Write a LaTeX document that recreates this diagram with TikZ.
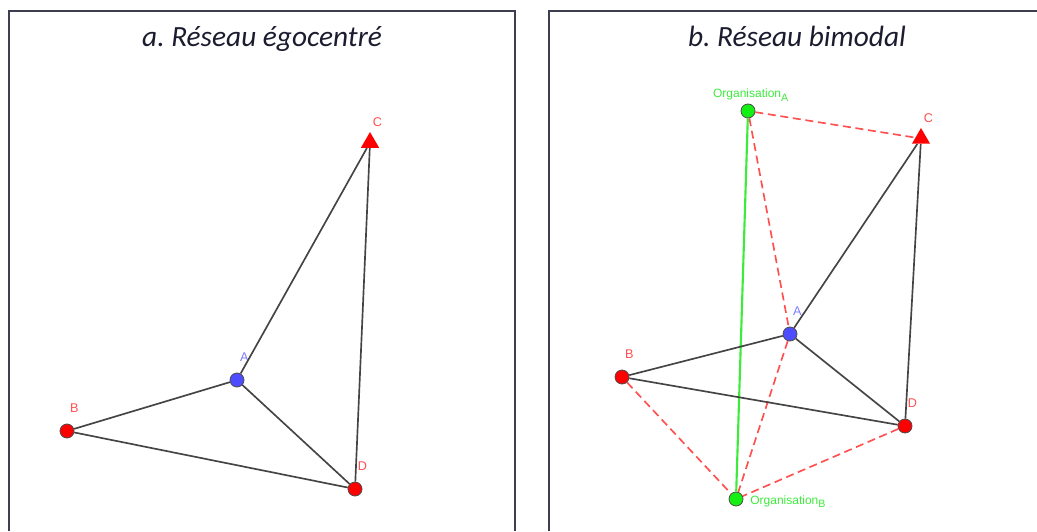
\documentclass[tikz,border=0pt]{standalone}
\usepackage{fontspec}
\newfontfamily\labelfont{Liberation Sans}
\newfontfamily\titlefont{Carlito}
\usepackage{tikz}
\usetikzlibrary{shapes.geometric}
\definecolor{ptred}{RGB}{255,0,0}
\definecolor{lblred}{RGB}{255,80,80}
\definecolor{ptblue}{RGB}{77,77,255}
\definecolor{lblblue}{RGB}{125,125,255}
\definecolor{ptgreen}{RGB}{20,240,20}
\definecolor{orggreen}{RGB}{60,235,60}
\definecolor{edgegray}{RGB}{68,68,68}
\definecolor{tiered}{RGB}{255,80,80}
\definecolor{framegray}{RGB}{62,62,82}
\definecolor{titleink}{RGB}{28,28,48}
\newcommand{\orgsub}[1]{\raisebox{-2.5pt}{\fontsize{8}{8}\selectfont #1}}

\begin{document}
\begin{tikzpicture}[x=0.75pt,y=-0.75pt,
  panel/.style={draw=framegray,line width=1.4pt},
  ttl/.style={font=\titlefont\itshape\fontsize{22}{24}\selectfont,text=titleink,anchor=base,inner sep=0pt},
  lbl/.style={font=\labelfont\fontsize{9.5}{10}\selectfont,inner sep=0pt,label distance=8pt,xshift=5.5pt},
  pt/.style={circle,draw=black!70,line width=0.6pt,minimum size=10.5pt,inner sep=0pt},
  redpt/.style={pt,fill=ptred,label={[lbl,text=lblred]above:#1}},
  bluept/.style={pt,fill=ptblue,label={[lbl,text=lblblue]above:#1}},
  greenpt/.style={pt,fill=ptgreen},
  tri/.style={regular polygon,regular polygon sides=3,fill=ptred,minimum size=15.75pt,inner sep=0pt,
              label={[lbl,text=lblred,label distance=3.5pt]above:#1}},
  link/.style={draw=edgegray,line width=1.25pt},
  tie/.style={draw=tiered,line width=1.25pt,dash pattern=on 6pt off 3.5pt},
  orgline/.style={draw=orggreen,line width=1.6pt},
  glbl/.style={font=\labelfont\fontsize{9}{10}\selectfont,inner sep=0pt,text=orggreen}
]
  \useasboundingbox (0,0) rectangle (1037,531);

  \draw[panel] (9,531) |- (515,11) -- (515,531);
  \draw[panel] (549,531) |- (1037,11);

  \begin{scope}
    \clip (0,0) rectangle (1037,53);
    \node[ttl] (titleA) at (262,47) {a.\ Réseau égocentré};
    \node[ttl] (titleB) at (797,47) {b.\ Réseau bimodal};
  \end{scope}

  % a. reseau egocentre
  \node[tri=C] (aC) at (370,142.5) {};
  \node[bluept=A] (aA) at (237,380) {};
  \node[redpt=B] (aB) at (67,431) {};
  \node[redpt=D] (aD) at (355,489) {};

  \draw[link] (aC) -- (aA);
  \draw[link] (aC) -- (aD);
  \draw[link] (aA) -- (aB);
  \draw[link] (aA) -- (aD);
  \draw[link] (aB) -- (aD);

  % b. reseau bimodal
  \node[tri=C] (bC) at (921,138.5) {};
  \node[bluept=A] (bA) at (790,334) {};
  \node[redpt=B] (bB) at (622,377) {};
  \node[redpt=D] (bD) at (905,426) {};
  \node[greenpt,label={[glbl,label distance=1.5pt,xshift=2pt]above:Organisation\orgsub{A}}] (orgA) at (748,111) {};
  \node[greenpt,label={[glbl,label distance=5pt,yshift=-2pt]right:Organisation\orgsub{B}}] (orgB) at (736,499) {};

  \draw[orgline] (orgA) -- (orgB);
  \draw[tie] (orgA) -- (bC);
  \draw[tie] (orgA) -- (bA);
  \draw[tie] (bA) -- (orgB);
  \draw[tie] (bB) -- (orgB);
  \draw[tie] (bD) -- (orgB);

  \draw[link] (bC) -- (bA);
  \draw[link] (bC) -- (bD);
  \draw[link] (bA) -- (bB);
  \draw[link] (bA) -- (bD);
  \draw[link] (bB) -- (bD);
\end{tikzpicture}
\end{document}
